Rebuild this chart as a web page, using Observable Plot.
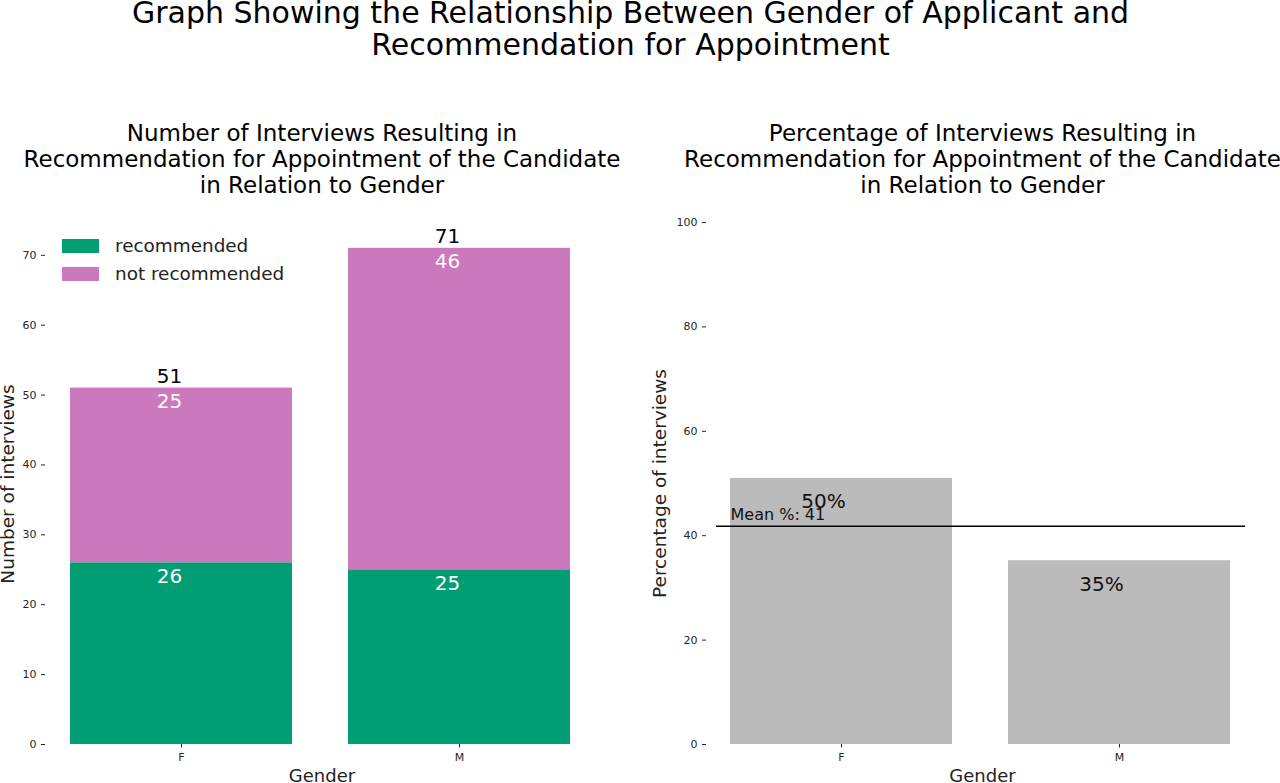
<!DOCTYPE html>
<html><head><meta charset="utf-8">
<script src="https://cdn.jsdelivr.net/npm/d3@7"></script>
<script src="https://cdn.jsdelivr.net/npm/@observablehq/plot@0.6"></script>
<style>
body{margin:0;background:#fff;overflow:hidden;font-family:"DejaVu Sans",sans-serif;}
#root{position:relative;width:1280px;height:783px;overflow:hidden;background:#fff;}
#title{position:absolute;left:0;width:1261px;top:-3px;text-align:center;font-size:30px;line-height:32px;color:#000;white-space:pre;}
.panel{position:absolute;top:110px;}
.legend{position:absolute;left:62px;font-size:18.4px;color:#222;}
.legend .row{position:absolute;left:0;height:14px;white-space:nowrap;}
.legend .sw{position:absolute;left:0;top:0;width:37px;height:14px;}
.legend .lb{position:absolute;left:53px;top:-4px;line-height:22px;}
</style></head><body>
<div id="root">
  <div id="title">Graph Showing the Relationship Between Gender of Applicant and
Recommendation for Appointment</div>
</div>
<script>
const genders = ["F", "M"];
const statuses = ["recommended", "not recommended"];
const recommended = [26, 25];
const notRecommended = [25, 46];
const statusColors = ["#029e73", "#cc78bc"];
const countTicks = [0, 10, 20, 30, 40, 50, 60, 70];
const pctTicks = [0, 20, 40, 60, 80, 100];
const leftTitle = "Number of Interviews Resulting in\nRecommendation for Appointment of the Candidate\nin Relation to Gender";
const rightTitle = "Percentage of Interviews Resulting in\nRecommendation for Appointment of the Candidate\nin Relation to Gender";

const rows = [];
genders.forEach((g, i) => {
  rows.push({gender: g, status: statuses[0], count: recommended[i]});
  rows.push({gender: g, status: statuses[1], count: notRecommended[i]});
});
const totals = genders.map((g, i) => ({gender: g, total: recommended[i] + notRecommended[i]}));
const pcts = genders.map((g, i) => ({gender: g, pct: recommended[i] / (recommended[i] + notRecommended[i]) * 100}));
const meanPct = d3.sum(recommended) / (d3.sum(recommended) + d3.sum(notRecommended)) * 100;

const font = "DejaVu Sans";
const root = document.getElementById("root");

// Left panel
const left = Plot.plot({
  width: 640, height: 673,
  marginLeft: 45, marginRight: 42, marginTop: 113, marginBottom: 39,
  style: {fontFamily: font, fontSize: "11px", color: "#262626", background: "transparent", overflow: "visible"},
  x: {domain: genders, range: [42, 598], paddingInner: 0.2, paddingOuter: 0.1, label: null},
  y: {domain: [0, 74.55], label: null},
  color: {domain: statuses, range: statusColors},
  marks: [
    Plot.barY(rows, Plot.stackY({x: "gender", y: "count", fill: "status"})),
    Plot.text(rows, Plot.stackY2({x: "gender", y: "count", text: d => String(d.count), fill: "white", fontSize: 20, lineAnchor: "bottom", dy: 20, dx: -12})),
    Plot.text(totals, {x: "gender", y: "total", text: d => String(d.total), fill: "#000", fontSize: 20, lineAnchor: "bottom", dy: -5, dx: -12}),
    Plot.axisY({ticks: countTicks, tickSize: 4, tickPadding: 5, fontSize: 11, label: null}),
    Plot.axisX({tickSize: 3.5, tickPadding: 5, fontSize: 11, label: null}),
    Plot.text([leftTitle], {frameAnchor: "top", text: d => d, fontSize: 23, lineHeight: 1.13, lineAnchor: "bottom", dy: -30.5, fill: "#000"}),
    Plot.text(["Gender"], {frameAnchor: "bottom", text: d => d, fontSize: 18, lineAnchor: "bottom", dy: 37, fill: "#222"}),
    Plot.text(["Number of interviews"], {frameAnchor: "left", text: d => d, fontSize: 18.5, rotate: -90, textAnchor: "middle", lineAnchor: "bottom", dx: -31.5, fill: "#222"})
  ]
});
left.classList.add("panel");
left.style.left = "0px";
root.appendChild(left);

// Right panel
const right = Plot.plot({
  width: 640, height: 673,
  marginLeft: 66, marginRight: 22, marginTop: 112, marginBottom: 39,
  style: {fontFamily: font, fontSize: "11px", color: "#262626", background: "transparent", overflow: "visible"},
  x: {domain: genders, range: [62, 618], paddingInner: 0.2, paddingOuter: 0.1, label: null},
  y: {domain: [0, 100], label: null},
  marks: [
    Plot.barY(pcts, {x: "gender", y: "pct", fill: "#bbbbbb"}),
    Plot.ruleY([meanPct], {stroke: "#000", strokeWidth: 1.6, insetLeft: 10, insetRight: 13}),
    Plot.text([meanPct], {x: () => genders[0], y: d => d, text: d => "Mean %: " + Math.floor(d), textAnchor: "start", dx: -111, dy: -6, lineAnchor: "bottom", fontSize: 16, fill: "#111"}),
    Plot.text(pcts, {x: "gender", y: "pct", text: d => Math.floor(d.pct) + "%", fontSize: 20, lineAnchor: "bottom", dy: 30, dx: -18, fill: "#111"}),
    Plot.axisY({ticks: pctTicks, tickSize: 4, tickPadding: 5, fontSize: 11, label: null}),
    Plot.axisX({tickSize: 3.5, tickPadding: 5, fontSize: 11, label: null}),
    Plot.text([rightTitle], {frameAnchor: "top", text: d => d, fontSize: 23, lineHeight: 1.13, lineAnchor: "bottom", dy: -29.5, fill: "#000"}),
    Plot.text(["Gender"], {frameAnchor: "bottom", text: d => d, fontSize: 18, lineAnchor: "bottom", dy: 37, fill: "#222"}),
    Plot.text(["Percentage of interviews"], {frameAnchor: "left", text: d => d, fontSize: 18.5, rotate: -90, textAnchor: "middle", lineAnchor: "bottom", dx: -41, fill: "#222"})
  ]
});
right.classList.add("panel");
right.style.left = "640px";
root.appendChild(right);

// Legend
const legend = document.createElement("div");
legend.className = "legend";
legend.style.top = "239px";
statuses.forEach((s, i) => {
  const row = document.createElement("div");
  row.className = "row";
  row.style.top = (i * 28) + "px";
  const sw = document.createElement("div");
  sw.className = "sw";
  sw.style.background = statusColors[i];
  const lb = document.createElement("div");
  lb.className = "lb";
  lb.textContent = s;
  row.appendChild(sw); row.appendChild(lb);
  legend.appendChild(row);
});
root.appendChild(legend);
</script>
</body></html>
